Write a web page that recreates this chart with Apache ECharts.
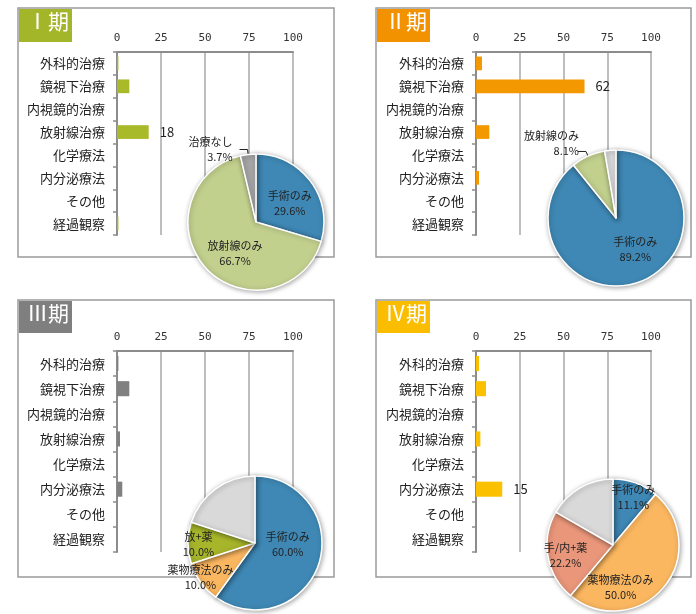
<!DOCTYPE html>
<html><head><meta charset="utf-8">
<script src="https://cdn.jsdelivr.net/npm/echarts@6/dist/echarts.min.js"></script>
<style>html,body{margin:0;padding:0;background:#fff}#c{width:696px;height:614px}</style>
</head><body><div id="c"></div>
<script>
const categories = ['外科的治療','鏡視下治療','内視鏡的治療','放射線治療','化学療法','内分泌療法','その他','経過観察'];
const valueTicks = [0, 25, 50, 75, 100];
const stage1Bars = [0.8, 7, 0, 18, 0, 0, 0, 0.8];
const stage2Bars = [3.4, 62, 0, 7.6, 0, 1.7, 0, 0];
const stage3Bars = [0.8, 7, 0, 1.7, 0, 3, 0, 0];
const stage4Bars = [1.7, 5.7, 0, 2.5, 0, 15, 0, 0];
const labeledBars = [[3], [1], [], [5]];

const pie1Names = ['手術のみ','放射線のみ','治療なし'];
const pie1Values = [29.6, 66.7, 3.7];
const pie2Names = ['手術のみ','放射線のみ','その他'];
const pie2Values = [89.2, 8.1, 2.7];
const pie3Names = ['手術のみ','薬物療法のみ','放+薬','その他'];
const pie3Values = [60.0, 10.0, 10.0, 20.0];
const pie4Names = ['手術のみ','薬物療法のみ','手/内+薬','その他'];
const pie4Values = [11.1, 50.0, 22.2, 16.7];

const titles = ['Ⅰ期','Ⅱ期','Ⅲ期','Ⅳ期'];
const titleColors = ['#a3b629','#f39200','#7f7f7f','#fbbd00'];
const barColors = ['#a8b92a','#f39800','#808080','#fbc100'];

const FONT = '"Noto Sans CJK JP","Noto Sans",sans-serif';
const panels = [
  {box:[18,8,316,249], grid:{left:117,top:52,width:176,height:183}, pie:{c:[256,222], r:68}},
  {box:[376,8,315,249], grid:{left:476,top:52,width:175,height:183}, pie:{c:[616,218], r:68}},
  {box:[18,300,316,277], grid:{left:117,top:351,width:176,height:201}, pie:{c:[255,543], r:67}},
  {box:[376,300,315,277], grid:{left:476,top:351,width:175,height:201}, pie:{c:[613,545], r:66}}
];
const barSets = [stage1Bars, stage2Bars, stage3Bars, stage4Bars];
const pieSets = [
  {names:pie1Names, values:pie1Values, colors:['#3f88b5','#c2d08e','#a5a5a5'], outside:[2], hidden:[], offs:[[4,3],[6,6],[-2,0]]},
  {names:pie2Names, values:pie2Values, colors:['#3f88b5','#c2d08e','#d9d9d9'], outside:[1], hidden:[2], offs:[[7,-4],[6,-8],[0,0]]},
  {names:pie3Names, values:pie3Values, colors:['#3f88b5','#fbb760','#a6b52a','#d9d9d9'], outside:[], hidden:[3], offs:[[-2,-10],[-25,13],[-20,1],[0,0]]},
  {names:pie4Names, values:pie4Values, colors:['#3f88b5','#fbb760','#e9967a','#d9d9d9'], outside:[], hidden:[3], offs:[[8,-14],[-20,19],[-12,4],[0,0]]}
];

const grids = [], xAxes = [], yAxes = [], series = [], graphics = [];
panels.forEach((p, i) => {
  graphics.push({type:'rect', z:0, shape:{x:p.box[0], y:p.box[1], width:p.box[2], height:p.box[3]},
    style:{fill:'#fff', stroke:'#9a9a9a', lineWidth:1.5}});
  graphics.push({type:'rect', z:1, shape:{x:p.box[0]+1, y:p.box[1]+1, width:53, height:p.box[1] < 100 ? 33 : 32},
    style:{fill:titleColors[i]}});
  graphics.push({type:'text', z:2, left:p.box[0]+9, top:p.box[1]+3,
    style:{text:titles[i], fill:'#fff', font:'21px ' + FONT}});
  grids.push(Object.assign({containLabel:false}, p.grid));
  xAxes.push({type:'value', gridIndex:i, position:'top', min:valueTicks[0], max:valueTicks[valueTicks.length-1], interval:25,
    axisLine:{show:true, lineStyle:{color:'#8c8c8c', width:2}}, axisTick:{show:false},
    axisLabel:{fontSize:11, color:'#333', margin:8, fontFamily:'"DejaVu Sans Mono",monospace'},
    splitLine:{show:true, lineStyle:{color:'#a8a8a8', width:1.5}}});
  yAxes.push({type:'category', gridIndex:i, data:categories, inverse:true,
    axisLine:{show:true, lineStyle:{color:'#8c8c8c', width:2}},
    axisTick:{show:true, length:4, lineStyle:{color:'#8c8c8c', width:1.5}},
    axisLabel:{fontSize:13, color:'#222', margin:12, fontFamily:FONT}});
  series.push({type:'bar', xAxisIndex:i, yAxisIndex:i, barWidth:'60%', z:3,
    itemStyle:{color:barColors[i]},
    data: barSets[i].map((v, k) => labeledBars[i].includes(k)
      ? {value:v, label:{show:true, position:'right', distance:11, fontSize:13, color:'#222', fontFamily:FONT}}
      : v)});
  const ps = pieSets[i];
  series.push({type:'pie', center:p.pie.c, radius:p.pie.r, startAngle:90, clockwise:true, z:5,
    animation:false,
    itemStyle:{borderColor:'#fff', borderWidth:1.5, shadowBlur:5, shadowColor:'rgba(0,0,0,0.35)', shadowOffsetX:1, shadowOffsetY:1},
    label:{show:true, position:'inside', fontSize:11, color:'#222', fontFamily:FONT, lineHeight:15,
      formatter: q => q.name + '\n' + q.value.toFixed(1) + '%'},
    labelLine:{show:false},
    labelLayout: q => ({dx: ps.offs[q.dataIndex][0], dy: ps.offs[q.dataIndex][1]}),
    data: ps.names.map((n, k) => {
      const d = {name:n, value:ps.values[k], itemStyle:{color:ps.colors[k]}};
      if (ps.hidden.includes(k)) d.label = {show:false};
      if (ps.outside.includes(k)) {
        d.label = {show:true, position:'outside', align:'center'};
        d.labelLine = {show:true, length:5, length2:8, lineStyle:{color:'#222', width:1}};
      }
      return d;
    })});
});

const chart = echarts.init(document.getElementById('c'));
chart.setOption({animation:false, grid:grids, xAxis:xAxes, yAxis:yAxes, series:series, graphic:graphics});
</script></body></html>
